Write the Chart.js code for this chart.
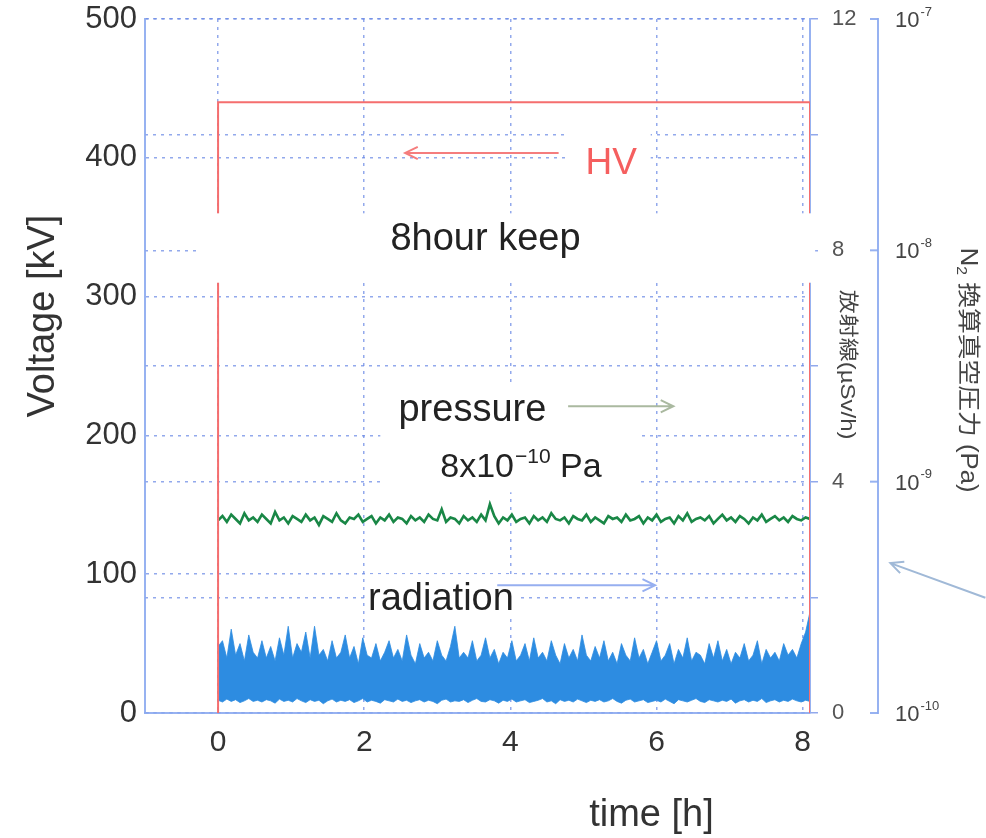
<!DOCTYPE html>
<html>
<head>
<meta charset="utf-8">
<title>8hour keep</title>
<script src="https://cdn.jsdelivr.net/npm/chart.js@4.4.1/dist/chart.umd.min.js"></script>
<style>
  html, body { margin: 0; padding: 0; background: #fff; }
  #chart { display: block; }
</style>
</head>
<body>
<canvas id="chart" width="986" height="838"></canvas>
<script>
// HV trace (time [h], kV)
var hvTime = [0, 0, 8.1, 8.1];
var hvVolt = [0, 440, 440, 0];

// logged samples, one every 0.06 h from 0 to 8.1 h
var sampleStep = 0.06;

// N2 equivalent pressure, in units of 1e-10 Pa
var pressure = [
  6.8,7.1,6.7,7.2,6.9,6.6,7.3,6.8,7.0,6.7,
  7.2,6.9,6.6,7.4,6.8,7.0,6.6,7.1,6.9,6.7,
  7.2,6.8,7.0,6.5,7.1,6.9,6.7,7.3,6.8,6.6,
  7.0,6.9,7.2,6.7,6.9,7.1,6.6,7.0,6.8,7.2,
  6.7,7.0,6.9,6.6,7.1,6.8,7.0,6.7,7.2,6.9,
  6.8,7.6,6.7,7.0,6.9,6.6,7.1,6.8,7.0,6.7,
  7.2,6.8,8.0,7.1,6.6,7.0,6.8,7.2,6.7,6.9,
  7.0,6.6,7.1,6.8,7.0,6.7,7.3,6.9,6.8,7.0,
  6.6,7.1,6.9,6.8,7.2,6.7,7.0,6.8,6.6,7.1,
  6.9,7.0,6.7,7.2,6.8,6.9,7.1,6.6,7.0,6.8,
  7.2,6.7,6.9,7.0,6.6,7.1,6.8,7.3,6.7,6.9,
  7.0,6.8,7.1,6.6,6.9,7.2,6.8,7.0,6.7,7.1,
  6.9,6.6,7.0,6.8,7.2,6.7,6.9,7.1,6.8,7.0,
  6.7,7.1,6.9,6.8,7.0,6.9
];

// radiation (uSv/h): upper and lower edge of the noisy trace
var radTop = [
  1.15,1.25,0.95,1.45,1.0,1.2,0.9,1.35,1.05,0.95,
  1.25,0.95,1.15,0.9,1.3,1.0,1.5,0.95,1.2,1.05,
  1.4,0.95,1.5,1.0,1.1,0.9,1.25,0.95,1.05,1.35,
  0.95,1.15,0.85,1.3,1.0,0.95,1.2,0.9,1.05,1.25,
  0.95,1.1,0.9,1.35,1.0,0.85,1.2,0.95,1.05,0.9,
  1.25,1.0,0.9,1.15,1.5,0.95,1.05,0.95,1.25,0.9,
  1.0,1.3,0.95,1.1,0.85,1.05,0.95,1.25,0.9,1.0,
  1.2,0.9,1.3,0.95,1.05,0.9,1.25,1.0,0.85,1.2,
  0.95,1.1,0.9,1.35,1.0,0.9,1.15,0.95,1.25,0.9,
  1.05,0.85,1.2,1.0,0.9,1.3,0.95,1.1,0.85,1.05,
  1.25,0.9,1.0,1.2,0.85,1.1,0.95,1.3,0.9,1.05,
  1.0,0.85,1.2,0.95,1.25,0.9,1.1,0.85,1.05,0.95,
  1.2,0.9,1.0,1.25,0.85,1.1,0.95,1.05,0.9,1.2,
  1.0,1.1,0.95,1.2,1.4,1.75
];
var radBottom = [
  0.22,0.19,0.24,0.2,0.23,0.18,0.21,0.25,0.2,0.22,
  0.19,0.23,0.21,0.17,0.24,0.2,0.22,0.19,0.25,0.21,
  0.18,0.23,0.2,0.22,0.16,0.21,0.24,0.19,0.22,0.2,
  0.23,0.18,0.21,0.25,0.19,0.22,0.2,0.17,0.23,0.21,
  0.19,0.24,0.2,0.22,0.18,0.21,0.23,0.19,0.22,0.2,
  0.16,0.22,0.24,0.19,0.21,0.2,0.23,0.18,0.22,0.25,
  0.2,0.19,0.23,0.21,0.17,0.22,0.2,0.24,0.19,0.21,
  0.23,0.18,0.2,0.22,0.25,0.19,0.21,0.16,0.23,0.2,
  0.22,0.19,0.24,0.21,0.18,0.22,0.2,0.23,0.19,0.21,
  0.25,0.2,0.17,0.22,0.24,0.19,0.21,0.23,0.18,0.2,
  0.22,0.19,0.24,0.2,0.16,0.23,0.21,0.19,0.22,0.25,
  0.2,0.18,0.23,0.21,0.19,0.22,0.2,0.24,0.17,0.21,
  0.23,0.19,0.22,0.2,0.25,0.18,0.21,0.23,0.19,0.22,
  0.2,0.24,0.21,0.19,0.22,0.2
];

// ticks
var timeTicks = [0, 2, 4, 6, 8];
var doseLabels = [0, 4, 8, 12];
var pressureDecades = [-10, -9, -8, -7];

var FONT = '"Liberation Sans", Arial, sans-serif';
var JFONT = '"Liberation Sans", "Noto Sans CJK JP", sans-serif';
var gridBlue = 'rgba(110,140,230,0.75)';
var axisBlue = 'rgba(140,170,240,0.9)';

var sampleTime = pressure.map(function(v, i) { return Math.round(i * sampleStep * 100) / 100; });

function toPoints(xs, ys, k) {
    return xs.map(function(x, i) { return {x: x, y: ys[i] * (k || 1)}; });
}

// keep the plot box where the reference has it (labels may overhang)
function noVPad(s) { s.paddingTop = 0; s.paddingBottom = 0; }

// Arrow helper
function arrow(ctx, x1, y1, x2, y2, color) {
    var a = Math.atan2(y2 - y1, x2 - x1), L = 14, s = 0.45;
    ctx.strokeStyle = color;
    ctx.lineWidth = 2;
    ctx.beginPath();
    ctx.moveTo(x1, y1);
    ctx.lineTo(x2, y2);
    ctx.moveTo(x2 - L * Math.cos(a - s), y2 - L * Math.sin(a - s));
    ctx.lineTo(x2, y2);
    ctx.lineTo(x2 - L * Math.cos(a + s), y2 - L * Math.sin(a + s));
    ctx.stroke();
}

// Notes, arrows, axis titles and the pressure axis labels
var notes = {
    id: 'notes',
    afterDatasetsDraw: function(chart) {
        var ctx = chart.ctx;
        var xs = chart.scales.x, ys = chart.scales.y, y3 = chart.scales.y3;
        var X = function(h) { return xs.getPixelForValue(h); };
        var Y = function(v) { return ys.getPixelForValue(v); };

        ctx.save();

        // white boxes behind the notes
        ctx.fillStyle = '#fff';
        [[-0.27, 360, 8.17, 310], [4.78, 424, 5.92, 370],
         [2.22, 236, 5.78, 159], [2.01, 100, 4.14, 70]].forEach(function(b) {
            ctx.fillRect(X(b[0]), Y(b[1]), X(b[2]) - X(b[0]), Y(b[3]) - Y(b[1]));
        });

        ctx.textAlign = 'center';
        ctx.textBaseline = 'middle';

        // HV
        ctx.fillStyle = 'rgb(245,95,95)';
        ctx.font = '37px ' + FONT;
        ctx.fillText('HV', X(5.38), Y(396));
        arrow(ctx, X(4.66), Y(403.5), X(2.56), Y(403.5), 'rgb(245,125,125)');

        ctx.fillStyle = '#222';
        ctx.font = '38px ' + FONT;
        ctx.fillText('8hour keep', X(3.66), Y(341));
        ctx.fillText('pressure', X(3.48), Y(218));
        ctx.fillText('radiation', X(3.05), Y(81.5));

        arrow(ctx, X(4.79), Y(221), X(6.23), Y(221), 'rgb(170,185,160)');
        arrow(ctx, X(3.82), Y(92), X(5.98), Y(92), 'rgb(150,175,240)');
        arrow(ctx, X(10.5), Y(83), X(9.2), Y(108), 'rgb(160,185,215)');

        // 8x10^-10 Pa
        ctx.textAlign = 'left';
        var px = X(3.04), py = Y(177);
        ctx.font = '34px ' + FONT;
        ctx.fillText('8x10', px, py);
        px += ctx.measureText('8x10').width + 1;
        ctx.font = '21px ' + FONT;
        ctx.fillText('\u221210', px, py - 10);
        px += ctx.measureText('\u221210').width;
        ctx.font = '34px ' + FONT;
        ctx.fillText(' Pa', px, py);

        // pressure axis: decade ticks and labels
        ctx.strokeStyle = axisBlue;
        ctx.lineWidth = 2;
        pressureDecades.forEach(function(d) {
            var ty = y3.getPixelForValue(Math.pow(10, d));
            ctx.beginPath();
            ctx.moveTo(y3.left - 8, ty);
            ctx.lineTo(y3.left, ty);
            ctx.stroke();
            ctx.fillStyle = '#444';
            ctx.font = '22px ' + FONT;
            ctx.fillText('10', y3.left + 17, ty + 2);
            var w = ctx.measureText('10').width;
            ctx.font = '13px ' + FONT;
            ctx.fillText('-' + (-d), y3.left + 17 + w + 1, ty - 7);
        });

        // axis titles
        ctx.fillStyle = '#333';
        ctx.textAlign = 'center';
        ctx.font = '38px ' + FONT;
        ctx.fillText('time [h]', X(5.93), chart.height - 22);

        ctx.save();
        ctx.translate(44, Y(286));
        ctx.rotate(-Math.PI / 2);
        ctx.fillText('Voltage [kV]', 0, 0);
        ctx.restore();

        ctx.fillStyle = '#444';
        ctx.save();
        ctx.translate(847, Y(251));
        ctx.rotate(Math.PI / 2);
        ctx.scale(1.2, 1);
        ctx.font = '20px ' + JFONT;
        ctx.fillText('放射線(µSv/h)', 0, 0);
        ctx.restore();

        ctx.save();
        ctx.translate(967, Y(247));
        ctx.rotate(Math.PI / 2);
        ctx.scale(1.12, 1);
        var parts = [['N', 23, 0], ['2', 14, 6], [' 換算真空圧力 (Pa)', 23, 0]];
        var total = 0;
        parts.forEach(function(p) { ctx.font = p[1] + 'px ' + JFONT; total += ctx.measureText(p[0]).width; });
        var cx = -total / 2;
        ctx.textAlign = 'left';
        parts.forEach(function(p) {
            ctx.font = p[1] + 'px ' + JFONT;
            ctx.fillText(p[0], cx, p[2]);
            cx += ctx.measureText(p[0]).width;
        });
        ctx.restore();

        ctx.restore();
    }
};

var ctx = document.getElementById('chart');

var chart = new Chart(ctx, {
    type: 'line',
    data: {
        datasets: [{
            label: 'HV',
            data: toPoints(hvTime, hvVolt),
            yAxisID: 'y',
            borderColor: 'rgb(245,110,110)',
            borderWidth: 2,
            pointRadius: 0,
            fill: false
        }, {
            label: 'pressure',
            data: toPoints(sampleTime, pressure, 1e-10),
            yAxisID: 'y3',
            borderColor: 'rgb(25,135,70)',
            borderWidth: 2.6,
            pointRadius: 0,
            fill: false
        }, {
            label: 'radiation',
            data: toPoints(sampleTime, radTop),
            yAxisID: 'y2',
            borderColor: 'rgba(45,140,225,0.8)',
            backgroundColor: 'rgb(45,140,225)',
            borderWidth: 1,
            pointRadius: 0,
            fill: '+1'
        }, {
            label: 'radiation low',
            data: toPoints(sampleTime, radBottom),
            yAxisID: 'y2',
            borderColor: 'rgba(45,140,225,0.8)',
            borderWidth: 1,
            pointRadius: 0,
            fill: false
        }]
    },
    options: {
        responsive: false,
        animation: false,
        devicePixelRatio: 1,
        layout: { padding: { top: 19, left: 0, right: 0, bottom: 0 } },
        elements: { line: { tension: 0 } },
        plugins: {
            legend: { display: false },
            tooltip: { enabled: false }
        },
        scales: {
            x: {
                type: 'linear',
                min: -1,
                max: 8.1,
                afterBuildTicks: function(s) {
                    s.ticks = timeTicks.map(function(v) { return {value: v}; });
                },
                afterFit: function(s) { s.height = 125; s.paddingLeft = 0; s.paddingRight = 0; },
                ticks: {
                    autoSkip: false,
                    maxRotation: 0,
                    padding: 12,
                    color: '#333',
                    font: { size: 30, family: FONT }
                },
                grid: { color: gridBlue, lineWidth: 1.5, drawTicks: false },
                border: { color: axisBlue, width: 2, dash: [3, 5] }
            },
            y: {
                position: 'left',
                min: 0,
                max: 500,
                afterFit: function(s) { s.width = 145; noVPad(s); },
                ticks: {
                    stepSize: 100,
                    padding: 8,
                    color: '#333',
                    font: { size: 31, family: FONT }
                },
                grid: { color: gridBlue, lineWidth: 1.5, drawTicks: false },
                border: { color: axisBlue, width: 2, dash: [3, 5] }
            },
            y2: {
                position: 'right',
                min: 0,
                max: 12,
                afterFit: function(s) { s.width = 68; noVPad(s); },
                ticks: {
                    stepSize: 2,
                    padding: 14,
                    color: '#555',
                    font: { size: 22, family: FONT },
                    callback: function(v) { return doseLabels.indexOf(v) >= 0 ? String(v) : ''; }
                },
                grid: { color: gridBlue, lineWidth: 1.5, drawTicks: true, tickLength: 8 },
                border: { color: axisBlue, width: 2, dash: [3, 5] }
            },
            y3: {
                type: 'logarithmic',
                position: 'right',
                min: 1e-10,
                max: 1e-7,
                afterFit: function(s) { s.width = 108; noVPad(s); },
                ticks: { display: false },
                grid: { display: false },
                border: { color: axisBlue, width: 2 }
            }
        }
    },
    plugins: [notes]
});
</script>
</body>
</html>
